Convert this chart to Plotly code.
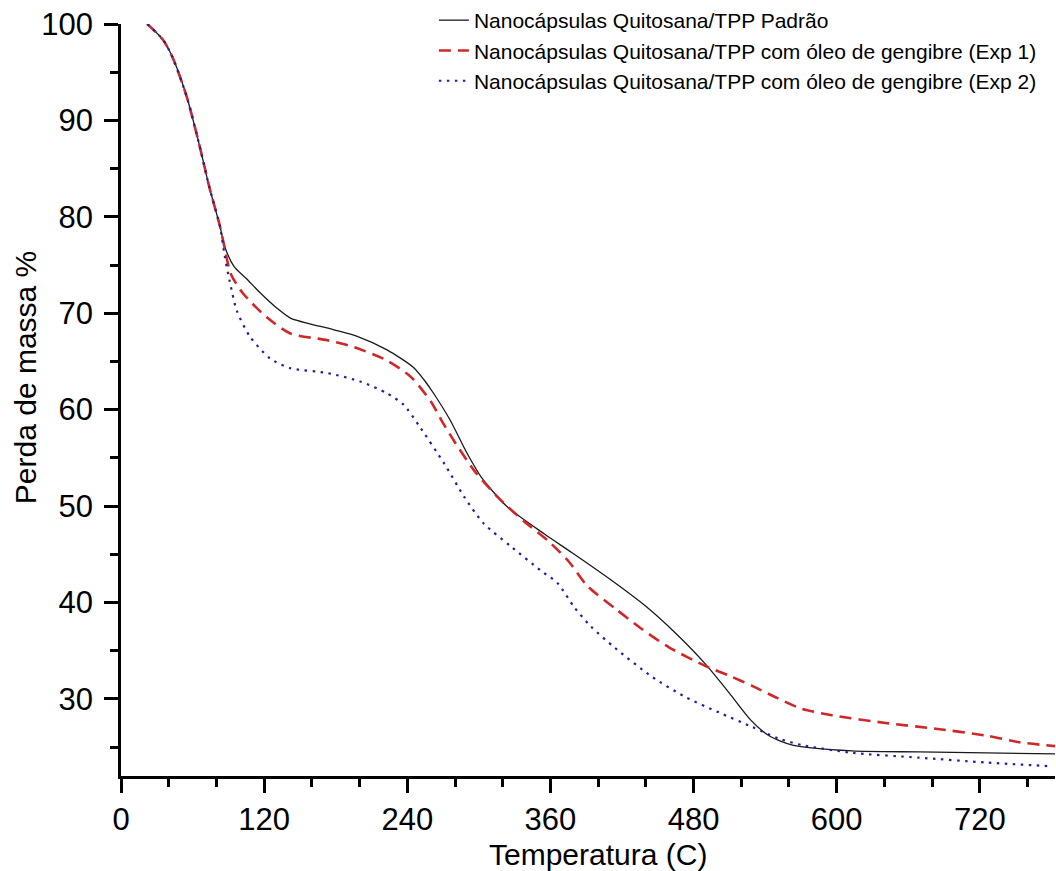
import plotly.graph_objects as go

# Temperature (C) and mass (%)
t_padrao = [22, 35, 43, 55, 66, 74, 83, 87, 95, 105, 116, 130, 142, 178, 198, 223, 245, 254,
            262, 276, 290, 302, 324, 355, 380, 410, 440, 465, 490, 510, 528, 543, 563,
            613, 669, 725, 783]
m_padrao = [100, 98.4, 96.6, 92.5, 87.3, 83.1, 79.0, 76.9, 74.8, 73.6, 72.2, 70.6, 69.5, 68.3,
            67.6, 66.2, 64.4, 63.1, 61.7, 58.9, 55.5, 53.0, 49.9, 47.1, 45.0, 42.4, 39.6, 36.8,
            33.6, 30.6, 27.8, 26.2, 25.2, 24.6, 24.5, 24.4, 24.3]

t_exp1 = [22, 35, 43, 55, 66, 74, 83, 86, 92, 102, 122, 142, 173, 195, 223, 243, 260, 270,
          280, 296, 316, 338, 358, 375, 391, 414, 436, 460, 492, 510, 530, 550, 570, 596,
          641, 683, 725, 753, 783]
m_exp1 = [100, 98.4, 96.6, 92.5, 87.3, 83.1, 79.0, 77.3, 74.1, 72.1, 69.6, 67.9, 67.2, 66.5,
          65.1, 63.4, 60.8, 58.6, 56.6, 53.7, 50.9, 48.4, 46.4, 44.3, 41.7, 39.4, 37.3, 35.3,
          33.3, 32.4, 31.3, 30.1, 29.0, 28.3, 27.5, 26.9, 26.2, 25.5, 25.1]

t_exp2 = [22, 35, 43, 55, 66, 74, 83, 87, 91, 97, 108, 125, 142, 173, 201, 223, 237, 250,
          271, 288, 304, 327, 352, 366, 380, 394, 414, 445, 473, 501, 529, 551, 571, 613,
          669, 725, 781]
m_exp2 = [100, 98.4, 96.6, 92.5, 87.3, 83.1, 79.0, 75.9, 73.4, 70.3, 67.6, 65.3, 64.3, 63.8,
          62.9, 61.7, 60.5, 58.3, 54.4, 50.9, 48.2, 45.8, 43.3, 42.0, 39.5, 37.5, 35.3, 32.3,
          30.2, 28.6, 27.1, 25.9, 25.2, 24.4, 23.9, 23.4, 23.0]

names = ["Nanocápsulas Quitosana/TPP Padrão",
         "Nanocápsulas Quitosana/TPP com óleo de gengibre (Exp 1)",
         "Nanocápsulas Quitosana/TPP com óleo de gengibre (Exp 2)"]
x_title = "Temperatura (C)"
y_title = "Perda de massa %"

FONT = "Liberation Sans, Arial, sans-serif"

fig = go.Figure()
fig.add_trace(go.Scatter(x=t_padrao, y=m_padrao, mode="lines", name=names[0],
                         line=dict(color="#1a1a1a", width=1.3, shape="spline", smoothing=0.7)))
fig.add_trace(go.Scatter(x=t_exp1, y=m_exp1, mode="lines", name=names[1],
                         line=dict(color="rgb(208,40,40)", width=2.6, dash="12px,7px",
                                   shape="spline", smoothing=0.7)))
fig.add_trace(go.Scatter(x=t_exp2, y=m_exp2, mode="lines", name=names[2],
                         line=dict(color="rgb(30,30,170)", width=2.2, dash="2.5px,5.5px",
                                   shape="spline", smoothing=0.7)))

axis_common = dict(showgrid=False, zeroline=False, showline=True, linecolor="black",
                   linewidth=2.5, ticks="outside", tickcolor="black", tickwidth=2.5,
                   ticklen=14, tickfont=dict(family=FONT, size=31, color="black"),
                   mirror=False, automargin=False)

fig.update_xaxes(range=[0, 783], tick0=0, dtick=120, ticklabelstandoff=0,
                 minor=dict(ticks="outside", dtick=40, ticklen=8, tickwidth=2.5, tickcolor="black"),
                 **axis_common)
fig.update_yaxes(range=[22, 100], tick0=0, dtick=10, ticklabelstandoff=5,
                 minor=dict(ticks="outside", dtick=5, ticklen=8, tickwidth=2.5, tickcolor="black"),
                 **axis_common)

# axis titles placed as annotations for exact positioning
fig.add_annotation(text=x_title, xref="paper", yref="paper", x=0.511, y=0,
                   xanchor="center", yanchor="middle", yshift=-78, showarrow=False,
                   font=dict(family=FONT, size=30, color="black"))
fig.add_annotation(text=y_title, xref="paper", yref="paper", x=0, y=0.529,
                   xanchor="center", yanchor="middle", xshift=-96, textangle=-90,
                   showarrow=False, font=dict(family=FONT, size=30, color="black"))

fig.update_layout(
    width=1056, height=871,
    margin=dict(l=121, r=1, t=24, b=95, autoexpand=False),
    paper_bgcolor="white", plot_bgcolor="white",
    font=dict(family=FONT, color="black"),
    legend=dict(x=0.335, xanchor="left", y=1.0, yanchor="top", yref="container",
                font=dict(family=FONT, size=21, color="black"),
                bgcolor="rgba(0,0,0,0)", tracegroupgap=0, itemwidth=30),
    showlegend=True,
)

fig.write_html("out.html", config={"displayModeBar": False},
               post_script="document.body.style.margin='0';document.body.style.overflow='hidden';")
